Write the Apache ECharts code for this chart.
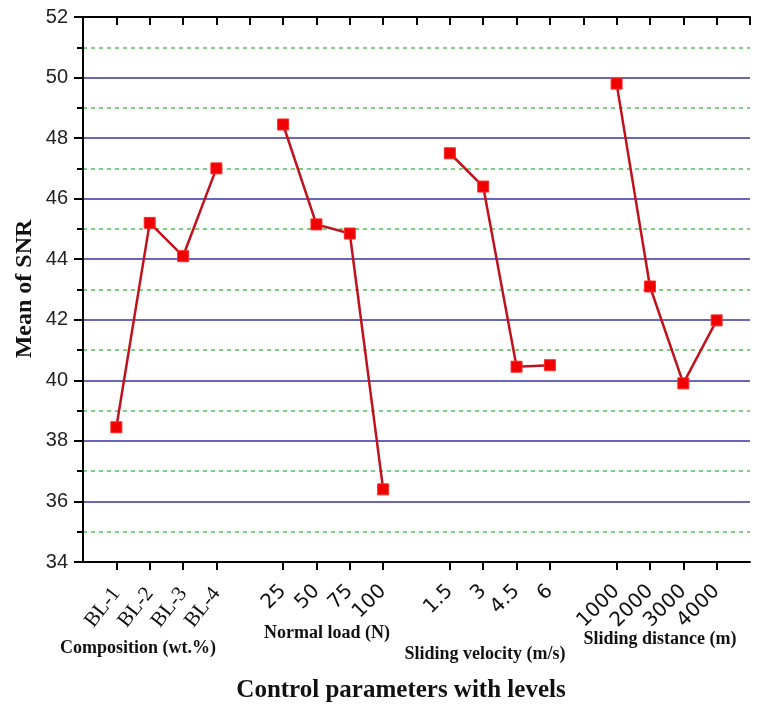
<!DOCTYPE html>
<html>
<head>
<meta charset="utf-8">
<script src="https://cdn.jsdelivr.net/npm/echarts@6/dist/echarts.min.js"></script>
<style>
html,body{margin:0;padding:0;background:#fff;}
#c{width:757px;height:706px;}
</style>
</head>
<body>
<div id="c"></div>
<script>
// ---- data ----
const groupNames = ['Composition (wt.%)', 'Normal load (N)', 'Sliding velocity (m/s)', 'Sliding distance (m)'];
const compLevels = ['BL-1', 'BL-2', 'BL-3', 'BL-4'];
const compSNR    = [38.45, 45.2, 44.1, 47.0];
const loadLevels = ['25', '50', '75', '100'];
const loadSNR    = [48.45, 45.15, 44.85, 36.4];
const velLevels  = ['1.5', '3', '4.5', '6'];
const velSNR     = [47.5, 46.4, 40.45, 40.5];
const distLevels = ['1000', '2000', '3000', '4000'];
const distSNR    = [49.8, 43.1, 39.9, 41.98];
const yTicks = [34, 36, 38, 40, 42, 44, 46, 48, 50, 52];
const yTitle = 'Mean of SNR';
const xTitle = 'Control parameters with levels';

const groups = [
  {levels: compLevels, vals: compSNR, serif: true},
  {levels: loadLevels, vals: loadSNR},
  {levels: velLevels,  vals: velSNR},
  {levels: distLevels, vals: distSNR}
];

// slot positions along x: 4 levels per group, one empty slot between groups
const serifLabelAt = {};
const numLabelAt = {};
const positions = [];
const serifPos = [];
const numPos = [];
const series = groups.map((g, gi) => {
  const data = g.vals.map((v, i) => {
    const x = gi * 5 + i + 1;
    if (g.serif) { serifLabelAt[x] = g.levels[i]; serifPos.push(x); }
    else { numLabelAt[x] = g.levels[i]; numPos.push(x); }
    positions.push(x);
    return [x, v];
  });
  return {
    type: 'line',
    data: data,
    xAxisIndex: 0, yAxisIndex: 0,
    symbol: 'rect',
    symbolSize: 11,
    lineStyle: {color: '#c0121c', width: 2.5},
    itemStyle: {color: '#f00000', borderColor: '#ff2a2a', borderWidth: 1},
    z: 5
  };
});

const axisBlack = {show: true, lineStyle: {color: '#000', width: 2}};
const chart = echarts.init(document.getElementById('c'), null, {renderer: 'canvas'});
chart.setOption({
  backgroundColor: '#fff',
  animation: false,
  grid: {left: 83, right: 7, top: 17, bottom: 144, containLabel: false},
  xAxis: [{
    type: 'value', min: 0, max: 20, position: 'bottom',
    axisLine: axisBlack,
    axisTick: {show: true, customValues: positions, length: 8, lineStyle: {color: '#000', width: 2}},
    axisLabel: {
      show: true, customValues: serifPos, rotate: 52, margin: 28,
      formatter: v => serifLabelAt[v] || '',
      fontFamily: 'Liberation Serif', fontSize: 21, color: '#111'
    },
    splitLine: {show: false}
  }, {
    type: 'value', min: 0, max: 20, interval: 1, position: 'top',
    axisLine: axisBlack,
    axisTick: {show: true, inside: true, length: 8, lineStyle: {color: '#000', width: 2}},
    axisLabel: {show: false},
    splitLine: {show: false}
  }, {
    type: 'value', min: 0, max: 20, position: 'bottom', offset: 0,
    axisLine: {show: false},
    axisTick: {show: false},
    axisLabel: {
      show: true, customValues: numPos, rotate: 45, margin: 26,
      formatter: v => numLabelAt[v] || '',
      fontFamily: 'DejaVu Sans', fontSize: 20, color: '#111'
    },
    splitLine: {show: false}
  }],
  yAxis: [{
    type: 'value', min: yTicks[0], max: yTicks[yTicks.length - 1], interval: 2, position: 'left',
    axisLine: axisBlack,
    axisTick: {show: true, length: 9, lineStyle: {color: '#000', width: 2}},
    minorTick: {show: true, splitNumber: 2, length: 5, lineStyle: {color: '#000', width: 2}},
    axisLabel: {fontFamily: 'Liberation Sans', fontSize: 20, color: '#222', margin: 15},
    splitLine: {show: true, lineStyle: {color: '#3535a8', width: 1.5}},
    minorSplitLine: {show: true, lineStyle: {color: '#55c055', width: 1.5, type: [4, 4]}}
  }, {
    type: 'value', min: yTicks[0], max: yTicks[yTicks.length - 1], interval: 1, position: 'right',
    axisLine: axisBlack,
    axisTick: {show: true, inside: true, length: 6, lineStyle: {color: '#000', width: 2}},
    axisLabel: {show: false},
    splitLine: {show: false}
  }],
  graphic: [
    {type: 'text', x: 25, y: 289, rotation: Math.PI / 2,
     style: {text: yTitle, font: 'bold 24px "Liberation Serif"', fill: '#111', align: 'center', verticalAlign: 'middle'}},
    {type: 'text', x: 401, y: 691,
     style: {text: xTitle, font: 'bold 25px "Liberation Serif"', fill: '#111', align: 'center', verticalAlign: 'middle'}},
    {type: 'text', x: 138, y: 648,
     style: {text: groupNames[0], font: 'bold 18px "Liberation Serif"', fill: '#111', align: 'center', verticalAlign: 'middle'}},
    {type: 'text', x: 327, y: 633,
     style: {text: groupNames[1], font: 'bold 18px "Liberation Serif"', fill: '#111', align: 'center', verticalAlign: 'middle'}},
    {type: 'text', x: 485, y: 654,
     style: {text: groupNames[2], font: 'bold 18px "Liberation Serif"', fill: '#111', align: 'center', verticalAlign: 'middle'}},
    {type: 'text', x: 660, y: 639,
     style: {text: groupNames[3], font: 'bold 18px "Liberation Serif"', fill: '#111', align: 'center', verticalAlign: 'middle'}}
  ],
  series: series
});
</script>
</body>
</html>
